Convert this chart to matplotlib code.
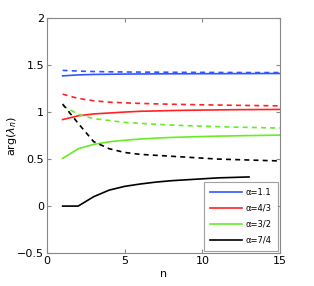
import numpy as np
import matplotlib
matplotlib.use("Agg")
import matplotlib.pyplot as plt

n = np.arange(1, 16)
n_black = np.arange(1, 14)

# solid lines
blue_solid = [1.385, 1.395, 1.400, 1.402, 1.404, 1.405, 1.406, 1.407, 1.407, 1.408, 1.408, 1.409, 1.409, 1.410, 1.410]
red_solid = [0.92, 0.96, 0.98, 0.99, 1.00, 1.008, 1.012, 1.016, 1.019, 1.021, 1.023, 1.025, 1.026, 1.027, 1.028]
green_solid = [0.507, 0.61, 0.656, 0.684, 0.70, 0.713, 0.723, 0.73, 0.735, 0.74, 0.744, 0.747, 0.75, 0.752, 0.755]
black_solid = [0.0, 0.0, 0.10, 0.17, 0.21, 0.235, 0.255, 0.27, 0.28, 0.29, 0.30, 0.305, 0.31]

# dashed lines
blue_dash = [1.443, 1.436, 1.431, 1.428, 1.426, 1.425, 1.424, 1.423, 1.422, 1.422, 1.421, 1.421, 1.420, 1.420, 1.420]
red_dash = [1.19, 1.145, 1.12, 1.105, 1.098, 1.092, 1.087, 1.083, 1.080, 1.077, 1.075, 1.072, 1.070, 1.068, 1.066]
green_dash = [1.07, 0.975, 0.93, 0.91, 0.89, 0.88, 0.87, 0.862, 0.855, 0.85, 0.845, 0.84, 0.837, 0.833, 0.83]
black_dash = [1.085, 0.88, 0.685, 0.61, 0.57, 0.55, 0.54, 0.53, 0.52, 0.51, 0.50, 0.495, 0.49, 0.485, 0.48]

labels = ['\u03b1=1.1', '\u03b1=4/3', '\u03b1=3/2', '\u03b1=7/4']
colors = ['#3355ff', '#ff2222', '#66ee22', 'black']

fig = plt.figure(figsize=(3.14, 2.86), dpi=100)
ax = fig.add_axes([0.150, 0.115, 0.742, 0.822])

solids = [blue_solid, red_solid, green_solid, black_solid]
dashes = [blue_dash, red_dash, green_dash, black_dash]
for i in range(4):
    xs = n_black if i == 3 else n
    ax.plot(xs, solids[i], color=colors[i], lw=1.2, label=labels[i])
    ax.plot(n, dashes[i], color=colors[i], lw=1.2, ls=(0, (3, 2.5)))

ax.set_xlim(0, 15)
ax.set_ylim(-0.5, 2)
ax.set_xticks([0, 5, 10, 15])
ax.set_yticks([-0.5, 0, 0.5, 1, 1.5, 2])
ax.set_yticklabels(['\u22120.5', '0', '0.5', '1', '1.5', '2'])
ax.tick_params(direction='in', top=True, right=True, labelsize=8, length=3,
               color='#888888', width=0.8, pad=2)
for s in ax.spines.values():
    s.set_color('#888888')
    s.set_linewidth(0.8)
ax.set_xlabel('n', fontsize=8, labelpad=2)
ax.set_ylabel(r'arg($\lambda_n$)', fontsize=8)
ax.yaxis.set_label_coords(-0.12, 0.5)

leg = ax.legend(loc='lower right', fontsize=6, handlelength=3.8, frameon=True,
                fancybox=False, borderaxespad=0.3, labelspacing=0.85,
                borderpad=0.7, handletextpad=0.5)
leg.get_frame().set_edgecolor('#888888')
leg.get_frame().set_linewidth(0.8)

fig.savefig('out.png', dpi=100)
